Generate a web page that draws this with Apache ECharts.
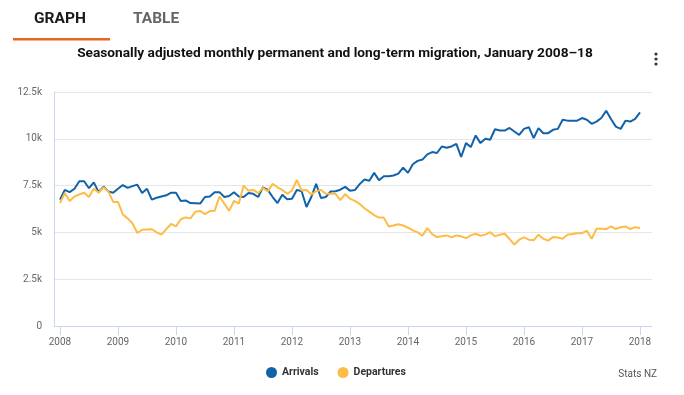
<!DOCTYPE html>
<html><head><meta charset="utf-8">
<script src="https://cdn.jsdelivr.net/npm/echarts@6/dist/echarts.min.js"></script>
<style>html,body{margin:0;padding:0;background:#fff}#c{width:684px;height:395px}</style>
</head><body><div id="c"></div>
<script>
const startYear = 2008;
const yearTicks = [2008, 2009, 2010, 2011, 2012, 2013, 2014, 2015, 2016, 2017, 2018];
const yTicks = [0, 2500, 5000, 7500, 10000, 12500];
const seriesNames = ['Arrivals', 'Departures'];
const titleText = 'Seasonally adjusted monthly permanent and long-term migration, January 2008\u201318';
// monthly values, Jan 2008 - Jan 2018
const arrivals = [
  6750, 7270, 7150, 7330, 7730, 7730, 7360, 7670, 7150, 7450, 7190, 7120,
  7330, 7530, 7380, 7470, 7550, 7100, 7330, 6750, 6850, 6920, 6980, 7120,
  7120, 6680, 6710, 6570, 6560, 6540, 6890, 6920, 7150, 7150, 6890, 6940,
  7150, 6920, 6890, 7100, 7060, 6890, 7410, 7270, 6890, 6570, 7010, 6770,
  6800, 7270, 7200, 6360, 6890, 7590, 6840, 6890, 7190, 7200, 7280, 7430,
  7230, 7260, 7580, 7830, 7760, 8180, 7790, 8000, 8000, 8040, 8140, 8460,
  8180, 8640, 8820, 8890, 9170, 9290, 9240, 9590, 9520, 9590, 9730, 9030,
  9770, 9560, 10180, 9770, 10000, 9950, 10510, 10440, 10440, 10580, 10390, 10210,
  10530, 10620, 10040, 10570, 10300, 10300, 10480, 10530, 11020, 10970, 10970, 10970,
  11110, 11020, 10800, 10920, 11110, 11500, 11060, 10650, 10530, 10970, 10920, 11060,
  11410
];
const departures = [
  6570, 7100, 6680, 6920, 7030, 7120, 6890, 7330, 7120, 7410, 7200, 6630,
  6630, 5960, 5750, 5490, 4970, 5140, 5160, 5170, 5000, 4880, 5180, 5450,
  5320, 5700, 5800, 5750, 6100, 6150, 5980, 6140, 6150, 6920, 6540, 6150,
  6680, 6540, 7500, 7220, 7270, 7100, 7380, 7190, 7590, 7410, 7270, 7060,
  7240, 7810, 7240, 7270, 7030, 7200, 7270, 7060, 7060, 7060, 6720, 7050,
  6800, 6680, 6520, 6290, 6110, 5920, 5790, 5790, 5320, 5370, 5440, 5370,
  5250, 5110, 5000, 4820, 5230, 4910, 4750, 4790, 4840, 4730, 4840, 4790,
  4700, 4840, 4930, 4820, 4880, 5010, 4790, 4880, 4930, 4650, 4350, 4610,
  4730, 4610, 4580, 4880, 4660, 4560, 4750, 4730, 4660, 4880, 4910, 4960,
  4960, 5090, 4660, 5190, 5190, 5180, 5320, 5180, 5280, 5320, 5180, 5280,
  5230
];
const toPoints = arr => arr.map((v, i) => [startYear + i / 12, v]);
const FONT = 'Roboto, "Noto Sans", sans-serif';
const chart = echarts.init(document.getElementById('c'), null, {renderer: 'canvas'});
chart.setOption({
  animation: false,
  backgroundColor: '#fff',
  textStyle: {fontFamily: FONT},
  graphic: [
    {type: 'text', x: 34, y: 11, style: {text: 'GRAPH', font: 'bold 15.5px ' + FONT, fill: '#1a1a1a'}},
    {type: 'text', x: 133, y: 11, style: {text: 'TABLE', font: 'bold 15.5px ' + FONT, fill: '#666'}},
    {type: 'rect', shape: {x: 13, y: 38, width: 97, height: 2.5}, style: {fill: '#e8651c'}},
    {type: 'text', x: 335, y: 54, style: {text: titleText, font: 'bold 13.7px ' + FONT, fill: '#111', align: 'center', verticalAlign: 'middle'}},
    {type: 'circle', shape: {cx: 656, cy: 54, r: 1.6}, style: {fill: '#333'}},
    {type: 'circle', shape: {cx: 656, cy: 59, r: 1.6}, style: {fill: '#333'}},
    {type: 'circle', shape: {cx: 656, cy: 64, r: 1.6}, style: {fill: '#333'}},
    {type: 'text', x: 657, y: 374, style: {text: 'Stats NZ', font: '10px ' + FONT, fill: '#555', align: 'right', verticalAlign: 'middle'}}
  ],
  legend: {
    data: seriesNames, left: 261, top: 362, icon: 'circle',
    itemWidth: 11, itemHeight: 11, itemGap: 19,
    textStyle: {fontFamily: FONT, fontSize: 10.5, fontWeight: 'bold', color: '#333'}
  },
  grid: {left: 54, right: 32, top: 92, bottom: 69, containLabel: false},
  xAxis: {
    type: 'value', min: 2007.897, max: 2018.207,
    axisLine: {show: true, lineStyle: {color: '#ccd6eb', width: 1}},
    axisTick: {show: true, customValues: yearTicks, length: 9, lineStyle: {color: '#ccd6eb'}},
    axisLabel: {customValues: yearTicks, formatter: v => String(Math.round(v)), color: '#666', fontSize: 10, margin: 11, fontFamily: FONT},
    splitLine: {show: false}
  },
  yAxis: {
    type: 'value', min: 0, max: 12500, interval: 2500,
    axisLine: {show: true, lineStyle: {color: '#ccd6eb', width: 1}},
    axisTick: {show: false},
    axisLabel: {formatter: v => v === 0 ? '0' : (v / 1000) + 'k', color: '#666', fontSize: 10, margin: 12, fontFamily: FONT},
    splitLine: {show: true, lineStyle: {color: '#e6e6e6', width: 1}}
  },
  series: [
    {name: seriesNames[0], type: 'line', data: toPoints(arrivals), showSymbol: false, symbol: 'circle',
     color: '#1262a9', lineStyle: {width: 2}},
    {name: seriesNames[1], type: 'line', data: toPoints(departures), showSymbol: false, symbol: 'circle',
     color: '#fdbc45', lineStyle: {width: 2}}
  ]
});
</script></body></html>
